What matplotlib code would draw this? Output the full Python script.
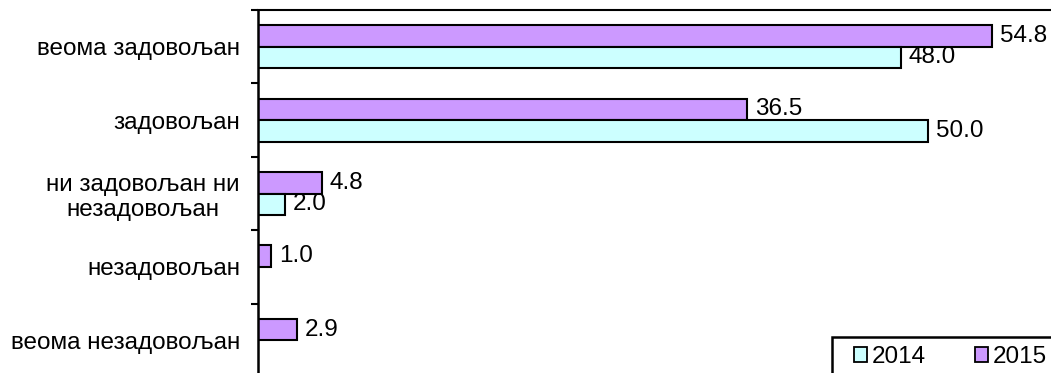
import numpy as np
import matplotlib
matplotlib.use("Agg")
import matplotlib.pyplot as plt
from matplotlib.patches import Patch, Rectangle

plt.rcParams["font.family"] = ["Liberation Sans", "DejaVu Sans"]

categories = [
    "веома задовољан",
    "задовољан",
    "ни задовољан ни\nнезадовољан",
    "незадовољан",
    "веома незадовољан",
]
values_2015 = [54.8, 36.5, 4.8, 1.0, 2.9]
values_2014 = [48.0, 50.0, 2.0, np.nan, np.nan]

col_2014 = "#CCFFFF"
col_2015 = "#CC99FF"
fs = 17.5

W, H = 1051, 373
fig = plt.figure(figsize=(W / 100, H / 100), dpi=100)
# axes: left spine at x=258, top at y=10, bottom just below the figure
ax = fig.add_axes([258 / W, 1 - 377 / H, (W - 258) / W, 367 / H])

y = np.arange(len(categories))
bh = 0.293
ax.barh(y - bh / 2, values_2015, height=bh, color=col_2015,
        edgecolor="black", linewidth=1.5)
ax.barh(y + bh / 2, values_2014, height=bh, color=col_2014,
        edgecolor="black", linewidth=1.5)

for yy, v in zip(y, values_2015):
    if not np.isnan(v):
        ax.annotate(f"{v:.1f}", (v, yy - bh / 2), xytext=(5.5, 0),
                    textcoords="offset points", va="center", ha="left",
                    fontsize=fs)
for yy, v in zip(y, values_2014):
    if not np.isnan(v):
        ax.annotate(f"{v:.1f}", (v, yy + bh / 2), xytext=(5.5, 0),
                    textcoords="offset points", va="center", ha="left",
                    fontsize=fs)

ax.set_xlim(0, (W - 258) / 13.4)
ax.set_ylim(len(categories) - 0.5, -0.5)

ax.set_yticks(y)
ax.set_yticklabels(categories, fontsize=fs, multialignment="center")
ax.tick_params(axis="y", which="major", length=0, pad=13)
ax.set_yticks(np.arange(-0.5, len(categories)), minor=True)
ax.tick_params(axis="y", which="minor", length=5, width=1.5, direction="out")
ax.set_xticks([])

ax.spines["right"].set_visible(False)
ax.spines["bottom"].set_visible(False)
ax.spines["left"].set_linewidth(1.8)
ax.spines["top"].set_linewidth(1.5)

# legend frame runs off the right and bottom edges
fig.patches.append(Rectangle((832 / W, -0.05), 0.3, 1 - 337 / H + 0.05,
                             transform=fig.transFigure, fill=False,
                             edgecolor="black", linewidth=1.8))
handles = [Patch(facecolor=col_2014, edgecolor="black", linewidth=1.3),
           Patch(facecolor=col_2015, edgecolor="black", linewidth=1.3)]
leg = fig.legend(handles, ["2014", "2015"], ncol=2, fontsize=fs,
                 loc="upper left", bbox_to_anchor=(854 / W, 1 - 346 / H),
                 frameon=False, handlelength=0.55, handleheight=0.55,
                 handletextpad=0.2, columnspacing=2.0,
                 borderpad=0, borderaxespad=0)

fig.savefig("out.png", dpi=100)
